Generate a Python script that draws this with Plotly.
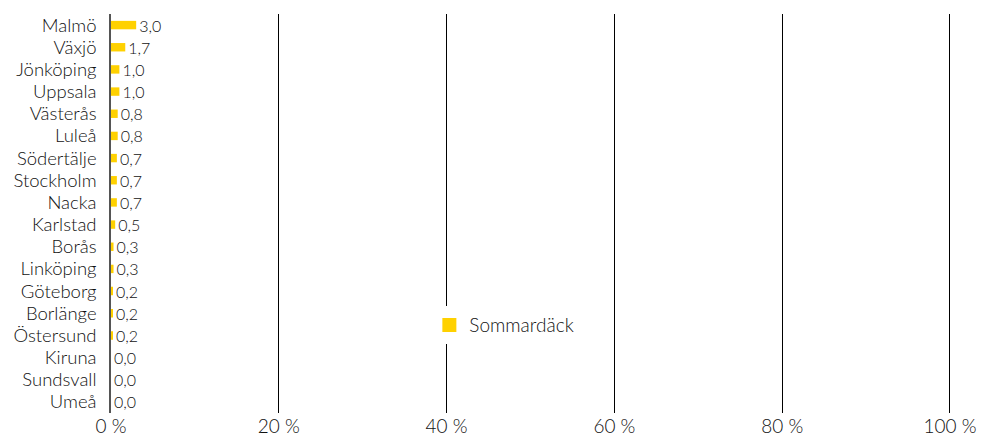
import plotly.graph_objects as go

cities = ["Malmö", "Växjö", "Jönköping", "Uppsala", "Västerås", "Luleå", "Södertälje",
          "Stockholm", "Nacka", "Karlstad", "Borås", "Linköping", "Göteborg", "Borlänge",
          "Östersund", "Kiruna", "Sundsvall", "Umeå"]
values = [3.0, 1.7, 1.0, 1.0, 0.8, 0.8, 0.7, 0.7, 0.7, 0.5, 0.3, 0.3, 0.2, 0.2, 0.2, 0.0, 0.0, 0.0]
series_name = "Sommardäck"
tick_vals = [0, 20, 40, 60, 80, 100]
tick_text = ["0 %", "20 %", "40 %", "60 %", "80 %", "100 %"]

labels = [f"{v:.1f}".replace(".", ",") for v in values]
FONT = "Lato"
W = 300
TXT = "#111111"
GOLD = "#FFD100"

fig = go.Figure()
fig.add_trace(go.Bar(
    y=cities, x=values, orientation="h", name=series_name,
    marker=dict(color=GOLD, line=dict(width=0)),
    text=labels, textposition="outside", cliponaxis=False,
    constraintext="none",
    textfont=dict(size=16, color=TXT, family=FONT, weight=W),
    showlegend=False,
))
# legend entry (larger square swatch)
fig.add_trace(go.Scatter(
    x=[None], y=[None], mode="markers", name=series_name,
    marker=dict(symbol="square", size=14, color=GOLD),
    showlegend=True,
))

fig.update_layout(
    width=981, height=438,
    margin=dict(l=111, r=30, t=14, b=25, autoexpand=False),
    paper_bgcolor="white", plot_bgcolor="white",
    font=dict(family=FONT, size=19, color=TXT, weight=W),
    bargap=0.62,
    showlegend=True,
    legend=dict(x=0.379, y=0.22, xanchor="left", yanchor="middle",
                bgcolor="white", font=dict(size=19, color=TXT, weight=W),
                itemwidth=30),
    xaxis=dict(range=[0, 100.12], tickvals=tick_vals, ticktext=tick_text,
               showgrid=True, gridcolor="#000000", gridwidth=1,
               zeroline=False, showline=False, ticks="",
               tickfont=dict(size=19, weight=W, color=TXT),
               automargin=False, fixedrange=True),
    yaxis=dict(categoryorder="array", categoryarray=cities[::-1],
               showline=True, linecolor="#555555", linewidth=1.5,
               showgrid=False, ticks="", ticklabelstandoff=9,
               automargin=False, tickfont=dict(size=18.5, weight=W, color=TXT)),
)
fig.write_html("out.html", config={"displayModeBar": False},
               post_script="document.body.style.margin='0';document.body.style.overflow='hidden';")
